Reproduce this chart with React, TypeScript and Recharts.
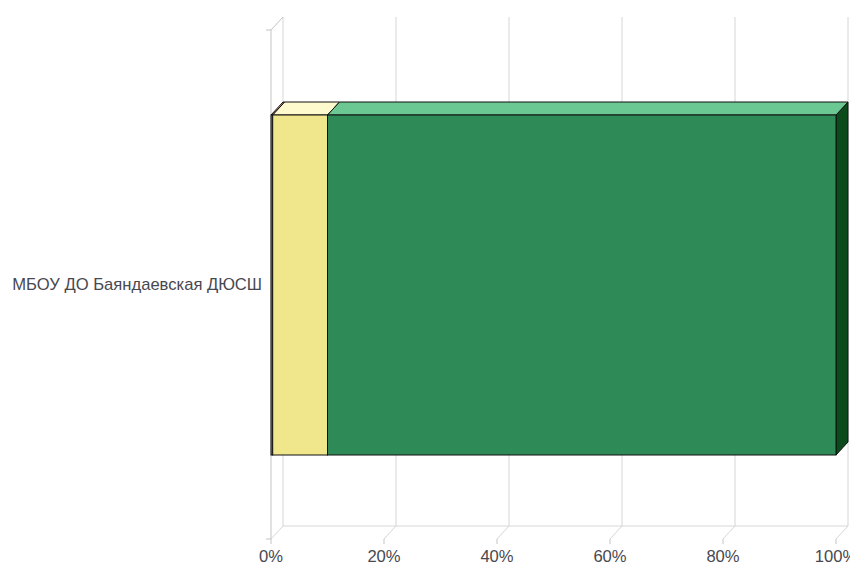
import { BarChart, Bar, XAxis, YAxis, CartesianGrid } from "recharts";

// chart values
const CATEGORIES = ["МБОУ ДО Баяндаевская ДЮСШ"];
const RED_VALUES = [0.3];
const YELLOW_VALUES = [9.7];
const GREEN_VALUES = [90];
const X_TICKS = [0, 20, 40, 60, 80, 100];

const WIDTH = 850;
const HEIGHT = 558;
const MARGIN = { top: 22, right: 22, bottom: 0, left: 0 };
const Y_AXIS_W = 263;
const PLOT_W = WIDTH - MARGIN.left - MARGIN.right - Y_AXIS_W;

// 3D depth offset
const DX = 12;
const DY = 13;
const GRID = "#d6d6d6";
const FONT = "'Liberation Sans', Arial, sans-serif";
const FONT_SIZE = 16.6;

const data = CATEGORIES.map((name, i) => ({
  name,
  red: RED_VALUES[i],
  yellow: YELLOW_VALUES[i],
  green: GREEN_VALUES[i],
}));

function make3DShape(front: string, top: string, side: string) {
  return (props: any) => {
    const { x, y, width, height } = props;
    if (width == null || height == null) return <g />;
    const topFace = `${x},${y} ${x + DX},${y - DY} ${x + width + DX},${y - DY} ${x + width},${y}`;
    const sideFace = `${x + width},${y} ${x + width + DX},${y - DY} ${x + width + DX},${y + height - DY} ${x + width},${y + height}`;
    return (
      <g>
        <polygon points={sideFace} fill={side} stroke="#111" strokeWidth={1} />
        <polygon points={topFace} fill={top} stroke="#111" strokeWidth={1} />
        <rect x={x} y={y} width={width} height={height} fill={front} stroke="#111" strokeWidth={1} />
      </g>
    );
  };
}

function gridLine(props: any) {
  const { x1, y1, y2, index } = props;
  return (
    <g>
      <line x1={x1 + DX} y1={y1 - DY} x2={x1 + DX} y2={y2 - DY} stroke={GRID} />
      <line x1={x1} y1={y2} x2={x1 + DX} y2={y2 - DY} stroke={GRID} />
      {index === 0 && (
        <g>
          <line x1={x1} y1={y1} x2={x1} y2={y2} stroke="#c4c4c4" />
          <line x1={x1} y1={y1} x2={x1 + DX} y2={y1 - DY} stroke="#c4c4c4" />
          <line x1={x1 - 5} y1={y1} x2={x1} y2={y1} stroke="#c4c4c4" />
          <line x1={x1 - 5} y1={y2} x2={x1} y2={y2} stroke="#c4c4c4" />
          <line x1={x1 + DX} y1={y2 - DY} x2={x1 + DX + PLOT_W} y2={y2 - DY} stroke={GRID} />
        </g>
      )}
    </g>
  );
}

export default function App() {
  return (
    <BarChart
      width={WIDTH}
      height={HEIGHT}
      data={data}
      layout="vertical"
      margin={MARGIN}
      style={{ fontFamily: FONT }}
    >
      <CartesianGrid horizontal={false} vertical={gridLine} />
      <XAxis
        type="number"
        domain={[0, 100]}
        ticks={X_TICKS}
        tickFormatter={(v) => `${v}%`}
        axisLine={false}
        tickLine={{ stroke: "#c4c4c4" }}
        tickSize={5}
        tickMargin={6}
        height={27}
        tick={{ fontSize: FONT_SIZE, fill: "#484850", fontFamily: FONT }}
        interval={0}
      />
      <YAxis
        type="category"
        dataKey="name"
        width={Y_AXIS_W}
        axisLine={false}
        tickLine={false}
        tickSize={0}
        tickMargin={9}
        tick={{ fontSize: FONT_SIZE, fill: "#484850", fontFamily: FONT }}
      />
      <Bar dataKey="red" stackId="a" barSize={340} isAnimationActive={false}
        shape={make3DShape("#e06060", "#f3a0a0", "#8b2a2a")} />
      <Bar dataKey="yellow" stackId="a" barSize={340} isAnimationActive={false}
        shape={make3DShape("#f0e68c", "#fffacd", "#a89e4a")} />
      <Bar dataKey="green" stackId="a" barSize={340} isAnimationActive={false}
        shape={make3DShape("#2e8b57", "#6cc892", "#0b4a1a")} />
    </BarChart>
  );
}
